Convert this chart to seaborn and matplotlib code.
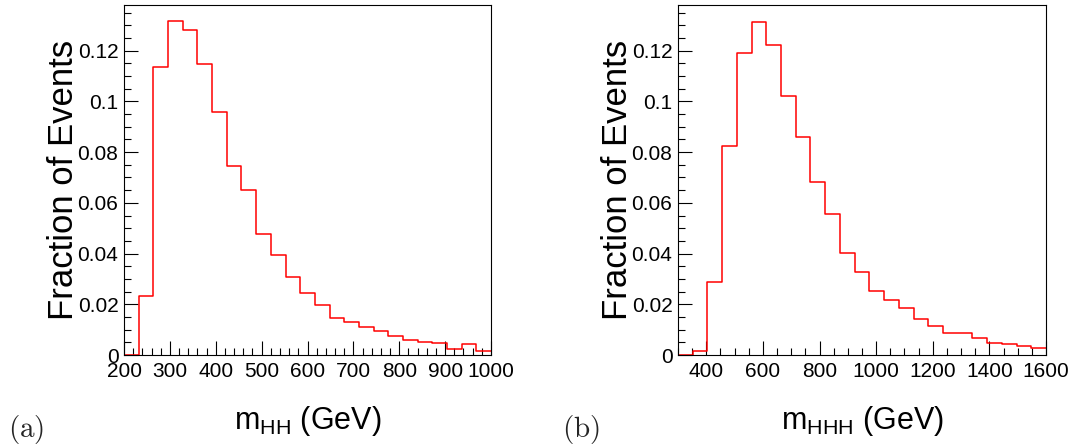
#!/usr/bin/env python3
"""Di-Higgs / tri-Higgs invariant mass distributions, ROOT-style step histograms."""

import numpy as np
import pandas as pd
import matplotlib
matplotlib.use("Agg")
import matplotlib.pyplot as plt
from matplotlib.ticker import MultipleLocator, FormatStrFormatter, FuncFormatter
import seaborn as sns

# ── Data (fraction of events per bin) ────────────────────────────────────────

# (a) m_HH : 25 bins from 200 to 1000 GeV
HH_RANGE = (200, 1000)
HH_NBINS = 25
HH_FRACTIONS = [
    0.0, 0.0234, 0.1134, 0.1316, 0.1280, 0.1147, 0.0959, 0.0746, 0.0649,
    0.0476, 0.0393, 0.0309, 0.0246, 0.0199, 0.0145, 0.0129, 0.0112, 0.0095,
    0.0076, 0.0058, 0.0051, 0.0046, 0.0025, 0.0042, 0.0016,
]

# (b) m_HHH : 25 bins from 300 to 1600 GeV
HHH_RANGE = (300, 1600)
HHH_NBINS = 25
HHH_FRACTIONS = [
    0.0002, 0.0016, 0.0286, 0.0826, 0.1192, 0.1312, 0.1222, 0.1021, 0.0861,
    0.0684, 0.0554, 0.0401, 0.0329, 0.0254, 0.0218, 0.0187, 0.0141, 0.0116,
    0.0088, 0.0086, 0.0066, 0.0049, 0.0045, 0.0036, 0.0029,
]

Y_LABEL = "Fraction of Events"
HH_XLABEL = r"m$_{\rm HH}$ (GeV)"
HHH_XLABEL = r"m$_{\rm HHH}$ (GeV)"
PANEL_TAGS = [r"$(\mathrm{a})$", r"$(\mathrm{b})$"]

sns.set_theme(style="white")
plt.rcParams["font.family"] = ["Liberation Sans", "DejaVu Sans"]
plt.rcParams["mathtext.fontset"] = "custom"
plt.rcParams["mathtext.rm"] = "Liberation Sans"
plt.rcParams["mathtext.it"] = "Liberation Sans:italic"
plt.rcParams["axes.edgecolor"] = "black"
plt.rcParams["axes.linewidth"] = 0.8


def y_fmt(v, _pos):
    return "%g" % round(v, 4)


def draw_hist(ax, lo, hi, nbins, fractions, xlabel, x_major, x_minor):
    edges = np.linspace(lo, hi, nbins + 1)
    df = pd.DataFrame({"mass": 0.5 * (edges[:-1] + edges[1:]),
                       "frac": fractions})
    sns.histplot(data=df, x="mass", weights="frac", bins=nbins,
                 binrange=(lo, hi), element="step",
                 fill=False, color="red", linewidth=1.1, ax=ax)
    ax.set_xlim(lo, hi)
    ax.set_ylim(0, 0.138)

    ax.xaxis.set_major_locator(MultipleLocator(x_major))
    ax.xaxis.set_minor_locator(MultipleLocator(x_minor))
    ax.xaxis.set_major_formatter(FormatStrFormatter("%d"))
    ax.yaxis.set_major_locator(MultipleLocator(0.02))
    ax.yaxis.set_minor_locator(MultipleLocator(0.005))
    ax.yaxis.set_major_formatter(FuncFormatter(y_fmt))

    ax.tick_params(which="both", direction="in", top=False, right=False,
                   bottom=True, left=True, color="black", width=0.8,
                   labelsize=15, labelcolor="black")
    ax.tick_params(which="major", length=10)
    ax.tick_params(which="minor", length=5)
    ax.tick_params(axis="y", pad=4)
    ax.tick_params(axis="x", pad=5)

    ax.set_xlabel(xlabel, fontsize=22, color="black")
    ax.set_ylabel(Y_LABEL, fontsize=25, color="black")
    ax.xaxis.set_label_coords(0.5, -0.14)
    ax.yaxis.set_label_coords(-0.12, 0.5)
    for sp in ax.spines.values():
        sp.set_visible(True)
        sp.set_color("black")


fig = plt.figure(figsize=(10.73, 4.45), dpi=100)
ax_a = fig.add_axes([0.1156, 0.2022, 0.3420, 0.7866])
ax_b = fig.add_axes([0.6319, 0.2022, 0.3429, 0.7866])

draw_hist(ax_a, *HH_RANGE, HH_NBINS, HH_FRACTIONS, HH_XLABEL, 100, 20)
draw_hist(ax_b, *HHH_RANGE, HHH_NBINS, HHH_FRACTIONS, HHH_XLABEL, 200, 50)

for xpos, tag in zip([0.0075, 0.524], PANEL_TAGS):
    fig.text(xpos, 0.018, tag, fontsize=21, math_fontfamily="cm",
             va="baseline", ha="left")

fig.savefig("out.png", dpi=100)
